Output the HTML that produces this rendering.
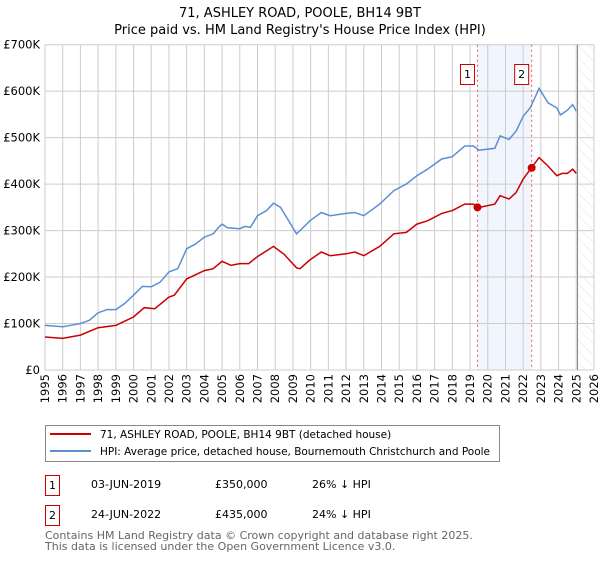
<!DOCTYPE html>
<html><head><meta charset="utf-8"><style>
body{margin:0;background:#fff;font-family:"DejaVu Sans","Liberation Sans",sans-serif;}
svg text{font-family:"DejaVu Sans","Liberation Sans",sans-serif;}
</style></head><body>
<svg id="chart" width="600" height="560" xmlns="http://www.w3.org/2000/svg">
<defs><pattern id="hatch" width="8" height="8" patternUnits="userSpaceOnUse" patternTransform="rotate(-45)"><line x1="0" y1="0" x2="0" y2="8" stroke="#dcdcdc" stroke-width="0.8"/></pattern></defs>
<text x="300" y="17" text-anchor="middle" font-size="13">71, ASHLEY ROAD, POOLE, BH14 9BT</text>
<text x="300" y="34" text-anchor="middle" font-size="13">Price paid vs. HM Land Registry's House Price Index (HPI)</text>
<g id="grid"></g><g id="axes"></g><g id="series"></g><g id="marks"></g>
<rect x="45.5" y="425.5" width="454" height="36" fill="#fff" stroke="#888"/>
<line x1="50" y1="434" x2="91" y2="434" stroke="#cc0000" stroke-width="2"/>
<text x="100" y="438" font-size="10.5">71, ASHLEY ROAD, POOLE, BH14 9BT (detached house)</text>
<line x1="50" y1="451" x2="91" y2="451" stroke="#5b8fd4" stroke-width="2"/>
<text x="100" y="455" font-size="10.5" textLength="390" lengthAdjust="spacingAndGlyphs">HPI: Average price, detached house, Bournemouth Christchurch and Poole</text>
<rect x="45.5" y="475.5" width="14" height="20" fill="none" stroke="#cc0000"/><text x="52.5" y="489" text-anchor="middle" font-size="11">1</text>
<text x="91" y="488" font-size="11">03-JUN-2019</text>
<text x="215" y="488" font-size="11">£350,000</text>
<text x="312" y="488" font-size="11">26% ↓ HPI</text>
<rect x="45.5" y="505.5" width="14" height="20" fill="none" stroke="#cc0000"/><text x="52.5" y="519" text-anchor="middle" font-size="11">2</text>
<text x="91" y="518" font-size="11">24-JUN-2022</text>
<text x="215" y="518" font-size="11">£435,000</text>
<text x="312" y="518" font-size="11">24% ↓ HPI</text>
<text x="45" y="539" font-size="11" fill="#666">Contains HM Land Registry data © Crown copyright and database right 2025.</text>
<text x="45" y="550" font-size="11" fill="#666">This data is licensed under the Open Government Licence v3.0.</text>
</svg>
<script>
const hpiYears=[1995,1996,1997,1997.5,1998,1998.5,1999,1999.5,2000,2000.5,2001,2001.5,2002,2002.5,2003,2003.5,2004,2004.5,2004.8,2005,2005.3,2006,2006.3,2006.6,2007,2007.5,2007.9,2008.3,2008.7,2009.2,2009.4,2009.96,2010.6,2011.1,2012,2012.5,2013,2013.9,2014.7,2015.4,2016,2016.6,2017.4,2018,2018.7,2019.2,2019.5,2020.4,2020.7,2021.2,2021.6,2022,2022.4,2022.9,2023.4,2023.9,2024.1,2024.5,2024.8,2025.0];
const hpiValues=[96,93,100,107,123,130,130,143,161,180,179,189,211,218,261,271,286,293,307,314,306,304,309,307,332,343,359,350,325,293,300,321,339,332,337,339,332,357,386,400,418,432,454,459,482,482,473,477,504,496,514,546,564,606,575,564,549,559,571,557];
const priceYears=[1995,1996,1997,1998,1999,2000,2000.6,2001.2,2002,2002.3,2003,2004,2004.5,2005,2005.5,2006,2006.5,2007,2007.9,2008.5,2009.2,2009.4,2009.96,2010.6,2011.1,2012,2012.5,2013,2013.9,2014.7,2015.4,2016,2016.6,2017.4,2018,2018.7,2019.2,2019.42,2020.4,2020.7,2021.2,2021.6,2022,2022.48,2022.9,2023.4,2023.9,2024.2,2024.5,2024.8,2025.0];
const priceValues=[71,68,75,91,96,114,134,132,157,161,196,214,218,234,225,229,229,244,266,249,220,218,237,254,246,250,254,246,266,293,296,314,321,337,343,357,357,349,357,375,368,382,411,436,457,439,418,423,423,432,423];
const saleYears=[2019.42,2022.48];
const saleValues=[350,435];
const saleLabels=["1","2"];
const yTicks=[0,100,200,300,400,500,600,700];
const yTickLabels=["£0","£100K","£200K","£300K","£400K","£500K","£600K","£700K"];
const xTicks=[1995,1996,1997,1998,1999,2000,2001,2002,2003,2004,2005,2006,2007,2008,2009,2010,2011,2012,2013,2014,2015,2016,2017,2018,2019,2020,2021,2022,2023,2024,2025,2026];
const dataEnd=2025.07;

const L=45,R=594,T=44.7,B=370;
const xs=y=>L+(y-1995)/(2026-1995)*(R-L);
const ys=v=>B-v/700*(B-T);
const NS="http://www.w3.org/2000/svg";
function mk(parent,tag,attrs){const e=document.createElementNS(NS,tag);for(const k in attrs)e.setAttribute(k,attrs[k]);document.getElementById(parent).appendChild(e);return e;}
let e;
e=mk('grid','rect',{x:xs(saleYears[0]),y:T,width:xs(saleYears[1])-xs(saleYears[0]),height:B-T,fill:'#eef3fc',opacity:0.8});


yTicks.forEach((v,i)=>{
 e=mk('grid','line',{x1:L,x2:R,y1:ys(v),y2:ys(v),stroke:'#ccc'});
 
 
 e=mk('axes','text',{x:L-5,y:ys(v)+4,'text-anchor':'end','font-size':11.5});
 e.textContent=yTickLabels[i];
 
 
});
xTicks.forEach(y=>{
 e=mk('grid','line',{x1:xs(y),x2:xs(y),y1:T,y2:B,stroke:'#ccc'});
 
 
 e=mk('axes','text',{transform:`translate(${xs(y)+4},${B+4}) rotate(-90)`,'text-anchor':'end','font-size':11.5});
 e.textContent=y;
 
 
});
e=mk('grid','rect',{x:xs(dataEnd),y:T,width:R-xs(dataEnd),height:B-T,fill:'url(#hatch)'});


e=mk('grid','line',{x1:xs(dataEnd),x2:xs(dataEnd),y1:T,y2:B,stroke:'#888'});


function path(xa,va){return xa.map((y,i)=>(i?'L':'M')+xs(y).toFixed(1)+','+ys(va[i]).toFixed(1)).join('');}
e=mk('series','path',{d:path(hpiYears,hpiValues),fill:'none',stroke:'#5b8fd4','stroke-width':1.5});


e=mk('series','path',{d:path(priceYears,priceValues),fill:'none',stroke:'#cc0000','stroke-width':1.5});


saleYears.forEach((y,i)=>{
 e=mk('marks','line',{x1:xs(y),x2:xs(y),y1:T,y2:B,stroke:'#e06060','stroke-dasharray':'2,3'});
 
 
 e=mk('marks','circle',{cx:xs(y),cy:ys(saleValues[i]),r:4,fill:'#cc0000'});
 
 
 e=mk('marks','rect',{x:xs(y)-17,y:64.5,width:14,height:20,fill:'#fff',stroke:'#cc0000'});
 
 
 e=mk('marks','text',{x:xs(y)-10,y:78,'text-anchor':'middle','font-size':11});
 e.textContent=saleLabels[i];
 
 
});
</script>
</body></html>
